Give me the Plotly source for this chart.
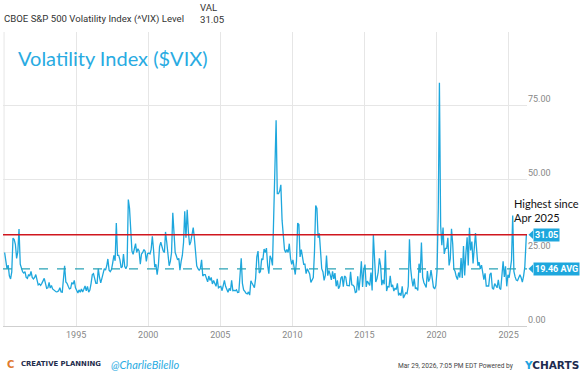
import plotly.graph_objects as go

# ---- data (monthly readings of the weekly VIX line, Jan 1990 - Mar 2026) ----
vix_values = [
    25.0, 21.0, 19.5, 20.7, 17.1, 16.0, 18.4, 29.9, 29.4, 27.8, 23.0, 25.2,   # 1990
    33.0, 21.0, 19.5, 18.5, 18.0, 18.5, 16.5, 16.2, 17.5, 17.0, 18.6, 16.5,   # 1991
    16.0, 16.5, 17.5, 15.8, 14.0, 14.3, 13.8, 14.5, 15.5, 16.2, 14.5, 12.8,   # 1992
    13.0, 14.8, 12.9, 13.8, 12.6, 12.2, 11.8, 11.6, 11.7, 12.0, 13.0, 11.6,   # 1993
    11.5, 16.0, 20.5, 15.0, 14.5, 13.5, 12.6, 12.8, 14.8, 14.2, 15.5, 13.0,   # 1994
    12.3, 11.2, 12.3, 11.5, 12.6, 11.6, 12.5, 13.6, 12.0, 13.5, 11.5, 12.2,   # 1995
    14.5, 17.5, 17.8, 15.5, 14.5, 14.5, 19.5, 16.5, 14.7, 16.2, 17.8, 19.5,   # 1996
    19.0, 20.5, 22.8, 19.0, 18.5, 19.2, 21.4, 24.0, 22.2, 35.0, 24.0, 24.0,   # 1997
    22.5, 19.8, 20.2, 24.5, 20.3, 19.5, 20.5, 43.0, 40.0, 30.0, 25.5, 24.4,   # 1998
    26.5, 28.0, 25.0, 26.3, 25.5, 21.0, 24.5, 25.0, 26.0, 25.4, 22.0, 24.6,   # 1999
    24.8, 24.5, 26.0, 30.5, 26.0, 20.0, 21.0, 17.5, 20.6, 27.0, 28.5, 26.5,   # 2000
    25.5, 25.0, 32.0, 28.5, 23.0, 20.5, 22.0, 25.0, 38.5, 33.0, 25.0, 23.8,   # 2001
    22.5, 23.0, 19.0, 22.0, 24.0, 28.5, 39.0, 30.0, 39.5, 32.0, 27.5, 28.6,   # 2002
    31.0, 33.5, 30.0, 24.5, 20.5, 19.5, 19.0, 19.5, 22.5, 17.0, 17.5, 17.5,   # 2003
    16.5, 15.0, 17.0, 15.5, 16.5, 14.3, 15.5, 14.5, 13.5, 16.0, 13.0, 13.3,   # 2004
    13.5, 12.0, 13.5, 15.5, 13.5, 12.0, 11.5, 12.8, 12.0, 15.5, 12.0, 12.1,   # 2005
    12.0, 12.3, 11.4, 11.5, 17.0, 23.0, 14.5, 12.3, 11.8, 11.1, 10.9, 11.6,   # 2006
    10.5, 15.4, 14.6, 14.0, 13.0, 16.2, 23.5, 25.5, 18.0, 18.5, 22.9, 22.5,   # 2007
    26.2, 25.0, 26.5, 20.5, 17.8, 23.9, 22.9, 20.6, 39.8, 62.0, 70.0, 45.0,   # 2008
    45.0, 46.0, 48.0, 36.0, 29.0, 26.0, 25.0, 26.0, 25.0, 28.0, 23.0, 21.0,   # 2009
    22.5, 19.5, 17.5, 22.0, 35.0, 34.5, 23.5, 26.0, 23.5, 21.0, 21.0, 17.8,   # 2010
    19.5, 18.5, 17.7, 14.8, 15.5, 16.5, 25.2, 41.0, 40.0, 30.0, 31.5, 23.4,   # 2011
    19.5, 18.4, 15.5, 17.2, 24.0, 17.1, 18.9, 17.5, 15.7, 18.6, 16.0, 18.0,   # 2012
    13.5, 15.5, 12.7, 13.5, 16.3, 16.9, 13.4, 17.0, 16.6, 13.8, 13.7, 13.7,   # 2013
    18.4, 14.0, 13.9, 13.4, 11.4, 11.6, 16.9, 12.1, 16.3, 22.0, 13.3, 19.2,   # 2014
    20.9, 13.3, 15.3, 14.6, 13.8, 18.2, 12.1, 31.0, 24.5, 15.0, 16.1, 18.2,   # 2015
    23.0, 20.5, 13.9, 15.7, 14.2, 25.8, 11.9, 13.4, 13.3, 17.1, 13.3, 14.0,   # 2016
    11.9, 12.9, 12.4, 14.5, 10.4, 11.2, 10.3, 13.5, 9.5, 10.2, 11.3, 11.0,    # 2017
    13.5, 29.5, 19.9, 15.9, 13.5, 16.1, 12.8, 12.9, 12.1, 21.2, 18.1, 28.4,   # 2018
    16.6, 14.8, 13.7, 13.1, 18.7, 15.1, 16.1, 19.0, 16.2, 13.2, 12.6, 13.8,   # 2019
    18.8, 40.1, 82.7, 34.2, 27.5, 33.5, 24.5, 26.4, 26.4, 30.0, 20.6, 22.8,   # 2020
    33.1, 27.9, 19.4, 18.6, 16.8, 15.8, 18.2, 16.5, 23.1, 16.3, 27.2, 17.2,   # 2021
    24.8, 30.2, 20.6, 33.4, 25.7, 28.7, 21.3, 25.9, 31.6, 25.8, 20.5, 21.7,   # 2022
    19.4, 20.7, 18.7, 15.8, 17.9, 13.6, 13.6, 13.6, 17.5, 18.1, 12.9, 12.5,   # 2023
    14.4, 13.4, 13.0, 15.7, 12.9, 12.4, 16.4, 22.0, 16.7, 20.3, 13.5, 17.4,   # 2024
    16.4, 19.6, 22.3, 37.6, 18.6, 16.7, 15.6, 15.4, 16.3, 17.4, 16.4, 14.9,   # 2025
    17.0, 20.0, 31.05,                                                        # 2026
]
start_year = 1990
last_date = "2026-03-27"
current_level = 31.05
average_level = 19.46
year_ticks = [1990, 1995, 2000, 2005, 2010, 2015, 2020, 2025]
y_ticks = [0, 25, 50, 75, 100]
y_tick_text = ["0.00", "25.00", "50.00", "75.00", ""]

dates = []
for i in range(len(vix_values)):
    y = start_year + i // 12
    m = i % 12 + 1
    dates.append(f"{y}-{m:02d}-15")
dates[-1] = last_date

BLUE = "#1ea7dd"
COND = "Roboto, Arial, sans-serif"
HAND = "Lato, Open Sans, sans-serif"

# plot area in pixels: left 3, right 527, top 32, bottom 326
W, H = 583, 377
L, R, T, B = 3, 56, 32, 51
PW, PH = W - L - R, H - T - B


def px(x):
    return (x - L) / PW


def py(y):
    return (H - B - y) / PH


fig = go.Figure()
fig.add_trace(go.Scatter(x=dates, y=vix_values, mode="lines",
                         line=dict(color=BLUE, width=1.3), hoverinfo="skip",
                         showlegend=False))

# reference lines
fig.add_hline(y=average_level, line=dict(color="#2aa3b6", width=1.2, dash="dash"))
fig.add_hline(y=current_level, line=dict(color="#d0161e", width=1.6))

# 1990 gridline (edge)
fig.add_vline(x=f"{year_ticks[0]}-01-01", line=dict(color="#e6e6e6", width=1), layer="below")

# value tags on right
for val, txt in [(current_level, f"<b>{current_level:.2f}</b>"),
                 (average_level, f"<b>{average_level:.2f} AVG</b>")]:
    fig.add_shape(type="path", xref="paper", yref="y",
                  path=f"M {px(528.5)},{val} L {px(533)},{val + 1.45} L {px(533)},{val - 1.45} Z",
                  fillcolor=BLUE, line=dict(width=0))
    fig.add_annotation(xref="paper", yref="y", x=px(532.5), y=val, xanchor="left",
                       text=txt, showarrow=False,
                       font=dict(family=COND, size=9, color="white"),
                       bgcolor=BLUE, borderpad=1)

# handwritten note
fig.add_annotation(xref="paper", yref="paper", x=px(581), y=py(210), xanchor="right",
                   yanchor="middle", text="Highest since<br>Apr 2025", showarrow=False,
                   align="left", font=dict(family=HAND, size=11, color="#111"))

# chart title inside plot
fig.add_annotation(xref="paper", yref="paper", x=px(16), y=py(58), xanchor="left",
                   yanchor="middle", text="Volatility Index ($VIX)", showarrow=False,
                   font=dict(family=HAND, size=20, color="#29abe2"))

# header
fig.add_annotation(xref="paper", yref="paper", x=px(2), y=py(19), xanchor="left",
                   yanchor="middle", text="CBOE S&P 500 Volatility Index (^VIX) Level",
                   showarrow=False, font=dict(family=COND, size=9.6, color="#333"))
fig.add_annotation(xref="paper", yref="paper", x=px(198), y=py(7), xanchor="left",
                   yanchor="middle", text="VAL", showarrow=False,
                   font=dict(family=COND, size=9.6, color="#333"))
fig.add_annotation(xref="paper", yref="paper", x=px(198), y=py(19), xanchor="left",
                   yanchor="middle", text=f"{current_level:.2f}", showarrow=False,
                   font=dict(family=COND, size=9.6, color="#333"))

# footer
fig.add_annotation(xref="paper", yref="paper", x=px(5), y=py(364), xanchor="left",
                   yanchor="middle",
                   text="<b><span style='color:#e07a2f'>C</span></b>",
                   showarrow=False, font=dict(family="DejaVu Sans, sans-serif", size=10, color="#1f2d4d"))
fig.add_annotation(xref="paper", yref="paper", x=px(19), y=py(364), xanchor="left",
                   yanchor="middle", text="<b>CREATIVE PLANNING</b>",
                   showarrow=False, font=dict(family="DejaVu Sans, sans-serif", size=6.9, color="#1f2d4d"))
fig.add_annotation(xref="paper", yref="paper", x=px(109), y=py(364), xanchor="left",
                   yanchor="middle", text="<i>@CharlieBilello</i>", showarrow=False,
                   font=dict(family=HAND, size=11, color="#29abe2"))
fig.add_annotation(xref="paper", yref="paper", x=px(516), y=py(366), xanchor="right",
                   yanchor="middle", text="Mar 29, 2026, 7:05 PM EDT Powered by",
                   showarrow=False, font=dict(family=COND, size=6.6, color="#444"))
fig.add_annotation(xref="paper", yref="paper", x=px(581), y=py(365), xanchor="right",
                   yanchor="middle",
                   text="<b><span style='color:#1fa3e0'>Y</span>CHARTS</b>",
                   showarrow=False, font=dict(family="DejaVu Sans, sans-serif", size=10.5, color="#1d2b4f"))

fig.update_layout(
    width=W, height=H,
    margin=dict(l=L, r=R, t=T, b=B, autoexpand=False),
    paper_bgcolor="white", plot_bgcolor="white",
    xaxis=dict(range=["1989-12-05", "2026-04-12"], type="date", automargin=False,
               tickvals=[f"{y}-01-01" for y in year_ticks[1:]],
               ticktext=[str(y) for y in year_ticks[1:]],
               showgrid=True, gridcolor="#e6e6e6", gridwidth=1,
               showline=True, linecolor="#cfcfcf", linewidth=1,
               ticks="", tickfont=dict(family=COND, size=9, color="#888"),
               zeroline=False, fixedrange=True),
    yaxis=dict(range=[0, 100], side="right", tickvals=y_ticks, ticktext=y_tick_text,
               automargin=False,
               showgrid=True, gridcolor="#e6e6e6", gridwidth=1, zeroline=False,
               ticks="", ticklabelposition="outside top",
               tickfont=dict(family=COND, size=9, color="#888"), fixedrange=True),
)

fig.write_html("out.html", config={"displayModeBar": False},
               post_script="document.body.style.margin='0';document.body.style.overflow='hidden';")
